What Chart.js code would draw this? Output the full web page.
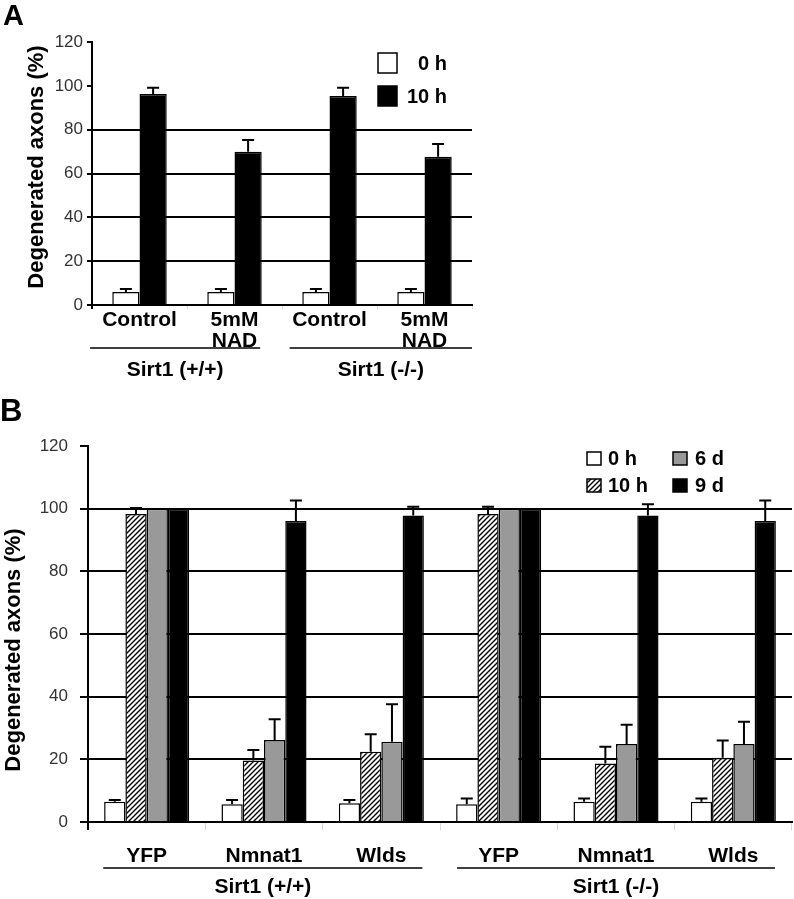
<!DOCTYPE html>
<html><head><meta charset="utf-8">
<script src="https://cdn.jsdelivr.net/npm/chart.js@4"></script>
<style>
html,body{margin:0;padding:0;background:#fff;width:794px;height:899px;overflow:hidden;}
#cA{position:absolute;left:0;top:0;}
#cB{position:absolute;left:0;top:390px;}
.pl{position:absolute;font-family:"Liberation Sans",Arial,sans-serif;font-weight:bold;line-height:1;color:#000;}
</style></head>
<body>
<canvas id="cA" width="794" height="390"></canvas>
<canvas id="cB" width="794" height="509"></canvas>
<div class="pl" style="left:3px;top:1px;font-size:29px;">A</div>
<div class="pl" style="left:0px;top:395px;font-size:31px;">B</div>
<script>
// ---------- Panel A data ----------
const catsA = [['Control'], ['5mM','NAD'], ['Control'], ['5mM','NAD']];
const groupsA = ['Sirt1 (+/+)', 'Sirt1 (-/-)'];
const groupSpansA = [[0,1],[2,3]];
const a0h = [5.9, 5.9, 5.9, 5.9];
const a0hErr = [1.4, 1.4, 1.4, 1.4];
const a10h = [96.3, 69.9, 95.4, 67.6];
const a10hErr = [2.8, 5.4, 3.7, 5.9];
const ticksA = [0, 20, 40, 60, 80, 100, 120];
const gridA = [0, 20, 40, 60, 80];

// ---------- Panel B data ----------
const catsB = ['YFP', 'Nmnat1', 'Wlds', 'YFP', 'Nmnat1', 'Wlds'];
const groupsB = ['Sirt1 (+/+)', 'Sirt1 (-/-)'];
const groupSpansB = [[0,2],[3,5]];
const b0h = [6.5, 5.7, 6.0, 5.7, 6.5, 6.5];
const b0hErr = [0.5, 1.3, 1.0, 1.8, 1.0, 1.0];
const b10h = [98.3, 19.6, 22.4, 98.3, 18.7, 20.5];
const b10hErr = [1.9, 3.4, 5.6, 2.3, 5.3, 5.5];
const b6d = [100, 26.2, 25.6, 100, 24.9, 24.9];
const b6dErr = [0, 6.6, 12.0, 0, 6.1, 7.1];
const b9d = [100, 96.1, 97.8, 100, 97.8, 96.1];
const b9dErr = [0, 6.5, 2.8, 0, 3.6, 6.5];
const ticksB = [0, 20, 40, 60, 80, 100, 120];
const gridB = [0, 20, 40, 60, 80, 100];

const FF = '"Liberation Sans", Arial, sans-serif';

function hatchPattern(){
  const c = document.createElement('canvas'); c.width = 5; c.height = 5;
  const x = c.getContext('2d');
  x.fillStyle = '#fff'; x.fillRect(0,0,5,5);
  x.strokeStyle = '#000'; x.lineWidth = 1.4;
  x.beginPath();
  x.moveTo(0,5); x.lineTo(5,0);
  x.moveTo(-1,1); x.lineTo(1,-1);
  x.moveTo(4,6); x.lineTo(6,4);
  x.stroke();
  return x.createPattern(c, 'repeat');
}
const HATCH = hatchPattern();

const errPlugin = {
  id: 'errbars',
  afterDatasetsDraw(chart, args, opts){
    const ctx = chart.ctx, ys = chart.scales.y;
    chart.data.datasets.forEach((ds, i) => {
      const meta = chart.getDatasetMeta(i);
      meta.data.forEach((bar, j) => {
        const e = ds.errors ? ds.errors[j] : 0;
        if (!e) return;
        const top = ys.getPixelForValue(ds.data[j] + e);
        ctx.save();
        ctx.strokeStyle = '#000'; ctx.lineWidth = 2;
        ctx.beginPath();
        ctx.moveTo(bar.x, bar.y); ctx.lineTo(bar.x, top);
        ctx.moveTo(bar.x - opts.cap, top); ctx.lineTo(bar.x + opts.cap, top);
        ctx.stroke();
        ctx.restore();
      });
    });
  }
};

const decoPlugin = {
  id: 'deco',
  afterDraw(chart, args, o){
    const ctx = chart.ctx, xs = chart.scales.x;
    const w = xs.getPixelForValue(1) - xs.getPixelForValue(0);
    ctx.save();
    // group labels
    ctx.font = 'bold 21px ' + FF;
    ctx.fillStyle = '#000'; ctx.strokeStyle = '#000'; ctx.lineWidth = 1.5;
    o.groups.forEach((g, k) => {
      const sp = o.spans[k], pd = o.pads[k];
      const x1 = xs.getPixelForValue(sp[0]) - pd[0]*w;
      const x2 = xs.getPixelForValue(sp[1]) + pd[1]*w;
      ctx.beginPath(); ctx.moveTo(x1, o.lineY); ctx.lineTo(x2, o.lineY); ctx.stroke();
      ctx.textAlign = 'center'; ctx.textBaseline = 'middle';
      ctx.fillText(g, (x1 + x2)/2, o.textY);
    });
    // y title
    ctx.save();
    ctx.translate(o.titleX, o.titleY);
    ctx.rotate(-Math.PI/2);
    ctx.font = 'bold 22px ' + FF;
    ctx.textAlign = 'center'; ctx.textBaseline = 'middle';
    ctx.fillText('Degenerated axons (%)', 0, 0);
    ctx.restore();
    // legend
    ctx.font = 'bold 20px ' + FF;
    o.legend.forEach(L => {
      const ds = chart.data.datasets[L.ds];
      ctx.fillStyle = ds.backgroundColor;
      ctx.fillRect(L.x, L.y, L.w, L.h);
      ctx.lineWidth = 1.5; ctx.strokeStyle = '#000';
      ctx.strokeRect(L.x, L.y, L.w, L.h);
      ctx.fillStyle = '#000';
      ctx.textBaseline = 'middle';
      ctx.textAlign = L.align;
      ctx.fillText(ds.label, L.tx, L.y + L.h/2 + 1);
    });
    ctx.restore();
  }
};

function yScale(ticks, grid, width, tickLen, pad){
  return {
    min: 0, max: 120,
    afterBuildTicks: s => { s.ticks = ticks.map(v => ({value: v})); },
    afterFit: s => { s.width = width; },
    ticks: { font: {family: FF, size: 17}, color: '#333', padding: pad },
    grid: {
      color: c => grid.includes(c.tick && c.tick.value) ? '#000' : 'rgba(0,0,0,0)',
      lineWidth: 2, tickColor: '#000', tickLength: tickLen, drawTicks: true
    },
    border: { display: true, color: '#000', width: 2 }
  };
}
function xScale(height, tickLen, pad, lastBlack){
  return {
    type: 'category', offset: true,
    afterFit: s => { s.height = height; },
    ticks: { font: {family: FF, size: 21, weight: 'bold', lineHeight: 1}, color: '#000', padding: pad, maxRotation: 0, autoSkip: false },
    grid: {
      drawOnChartArea: false, drawTicks: true, tickLength: tickLen, offset: true,
      lineWidth: c => (c.index === 0 || (lastBlack && c.index === c.chart.data.labels.length)) ? 2 : 1,
      tickColor: c => (c.index === 0 || (lastBlack && c.index === c.chart.data.labels.length)) ? '#000' : '#d8d8d8',
      color: '#d8d8d8'
    },
    border: { display: true, color: '#000', width: 2 }
  };
}

new Chart(document.getElementById('cA'), {
  type: 'bar',
  data: {
    labels: catsA,
    datasets: [
      {label: '0 h', data: a0h, errors: a0hErr, backgroundColor: '#fff', borderColor: '#000', borderWidth: 1.5, categoryPercentage: 0.573, barPercentage: 1},
      {label: '10 h', data: a10h, errors: a10hErr, backgroundColor: '#000', borderColor: '#000', borderWidth: 1.5, categoryPercentage: 0.573, barPercentage: 1}
    ]
  },
  options: {
    responsive: false, animation: false, devicePixelRatio: 1,
    layout: { padding: {left: 0, right: 322, top: 42, bottom: 0} },
    scales: { x: xScale(85, 4, 1, false), y: yScale(ticksA, gridA, 92, 5, 4) },
    plugins: {
      legend: {display: false}, tooltip: {enabled: false},
      errbars: {cap: 6},
      deco: {
        groups: groupsA, spans: groupSpansA, pads: [[0.52,0.27],[0.42,0.5]],
        lineY: 348, textY: 370, titleX: 37, titleY: 167,
        legend: [
          {ds: 0, x: 378, y: 53, w: 19, h: 20, tx: 447, align: 'right'},
          {ds: 1, x: 378, y: 86, w: 19, h: 20, tx: 447, align: 'right'}
        ]
      }
    }
  },
  plugins: [errPlugin, decoPlugin]
});

new Chart(document.getElementById('cB'), {
  type: 'bar',
  data: {
    labels: catsB,
    datasets: [
      {label: '0 h', data: b0h, errors: b0hErr, backgroundColor: '#fff', borderColor: '#000', borderWidth: 1.5, categoryPercentage: 0.725, barPercentage: 1},
      {label: '10 h', data: b10h, errors: b10hErr, backgroundColor: HATCH, borderColor: '#000', borderWidth: 1.5, categoryPercentage: 0.725, barPercentage: 1},
      {label: '6 d', data: b6d, errors: b6dErr, backgroundColor: '#999999', borderColor: '#000', borderWidth: 1.5, categoryPercentage: 0.725, barPercentage: 1},
      {label: '9 d', data: b9d, errors: b9dErr, backgroundColor: '#000', borderColor: '#000', borderWidth: 1.5, categoryPercentage: 0.725, barPercentage: 1}
    ]
  },
  options: {
    responsive: false, animation: false, devicePixelRatio: 1,
    layout: { padding: {left: 0, right: 2, top: 56, bottom: 0} },
    scales: { x: xScale(77, 8, 16, true), y: yScale(ticksB, gridB, 88, 8, 12) },
    plugins: {
      legend: {display: false}, tooltip: {enabled: false},
      errbars: {cap: 6},
      deco: {
        groups: groupsB, spans: groupSpansB, pads: [[0.37,0.35],[0.355,0.355]],
        lineY: 478, textY: 497, titleX: 14, titleY: 260,
        legend: [
          {ds: 0, x: 587, y: 62, w: 14, h: 13, tx: 608, align: 'left'},
          {ds: 1, x: 587, y: 89, w: 14, h: 13, tx: 608, align: 'left'},
          {ds: 2, x: 673, y: 62, w: 14, h: 13, tx: 695, align: 'left'},
          {ds: 3, x: 673, y: 89, w: 14, h: 13, tx: 695, align: 'left'}
        ]
      }
    }
  },
  plugins: [errPlugin, decoPlugin]
});
</script>
</body></html>
